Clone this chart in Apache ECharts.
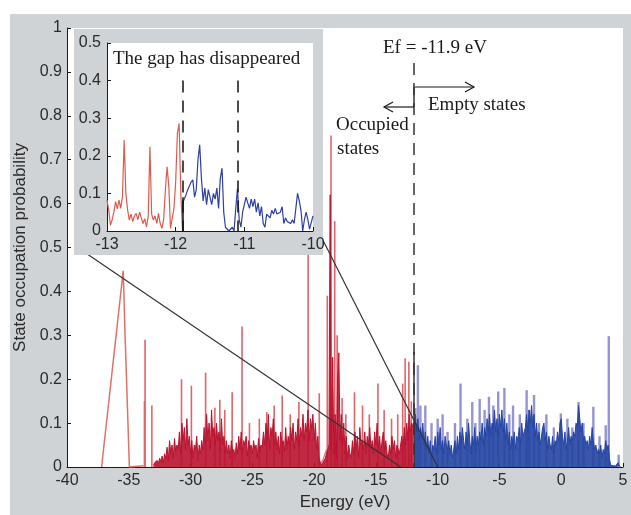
<!DOCTYPE html>
<html><head><meta charset="utf-8">
<script src="https://cdn.jsdelivr.net/npm/echarts@6/dist/echarts.min.js"></script>
<style>html,body{margin:0;padding:0;background:#fff}#c{width:631px;height:515px}</style>
</head><body><div id="c"></div>
<script>
// ---------- data ----------
const mainXRange = [-40, 5];
const mainYRange = [0, 1];
const insetXRange = [-13, -10];
const insetYRange = [0, 0.5];
const fermiLevel = -11.9;
const gapEdge = -11.1;

// dense occupied (red) states, one value every 0.1 eV from -33.0 eV
const RED_START = -33.0, MAIN_STEP = 0.1;
const redDark = [
 0.004,0.01,0.006,0.015,0.008,0.02,0.012,0.025,0.01,0.03,
 0.02,0.045,0.015,0.06,0.03,0.05,0.02,0.065,0.035,0.05,
 0.04,0.08,0.03,0.1,0.06,0.09,0.04,0.11,0.05,0.07,
 0.03,0.06,0.02,0.05,0.04,0.07,0.015,0.05,0.03,0.06,
 0.04,0.09,0.05,0.12,0.06,0.1,0.04,0.13,0.07,0.09,
 0.05,0.1,0.06,0.08,0.04,0.11,0.05,0.07,0.03,0.06,
 0.03,0.05,0.02,0.06,0.035,0.04,0.02,0.055,0.03,0.07,
 0.04,0.08,0.03,0.06,0.05,0.07,0.025,0.06,0.04,0.05,
 0.03,0.06,0.04,0.05,0.02,0.065,0.035,0.05,0.045,0.08,
 0.05,0.1,0.06,0.12,0.04,0.09,0.07,0.11,0.05,0.08,
 0.04,0.07,0.03,0.08,0.05,0.06,0.035,0.09,0.04,0.07,
 0.05,0.09,0.06,0.1,0.04,0.08,0.06,0.11,0.05,0.09,
 0.07,0.12,0.06,0.1,0.08,0.13,0.06,0.11,0.09,0.12,
 0.06,0.1,0.04,0.07,0.02,0.01,0.005,0.01,0.015,0.02,
 0.03,0.04,0.05,0.62,0.04,0.25,0.03,0.12,0.02,0.2,
 0.26,0.06,0.12,0.05,0.1,0.03,0.07,0.02,0.05,0.03,
 0.02,0.06,0.03,0.08,0.04,0.07,0.02,0.09,0.05,0.06,
 0.04,0.08,0.03,0.07,0.05,0.09,0.04,0.06,0.03,0.08,
 0.05,0.1,0.04,0.07,0.03,0.06,0.08,0.04,0.06,0.03,
 0.02,0.05,0.03,0.07,0.04,0.06,0.02,0.05,0.04,0.03,
 0.03,0.07,0.04,0.09,0.05,0.1,0.06,0.12,0.08,0.1,
 0.09
];
// isolated tall occupied peaks [energy, probability]
const redSpikes = [
 [-33.65,0.29],[-33.7,0.15],[-33.1,0.14],[-30.7,0.2],[-29.9,0.185],[-28.75,0.215],[-28.0,0.135],
 [-27.6,0.153],[-27.2,0.13],[-26.6,0.17],[-25.8,0.32],[-25.2,0.1],[-24.4,0.11],
 [-23.8,0.125],[-23.2,0.14],[-22.55,0.163],[-21.9,0.12],[-21.2,0.148],[-20.45,0.55],
 [-19.55,0.168],[-18.9,0.39],[-18.6,0.755],[-18.3,0.56],[-18.1,0.3],[-17.7,0.157],
 [-17.4,0.12],[-16.7,0.17],[-16.05,0.14],[-15.5,0.12],[-14.8,0.19],[-14.3,0.13],[-13.7,0.11],
 [-13.2,0.12],[-12.8,0.19],[-12.6,0.248],[-12.3,0.24],[-12.1,0.15]
];
// deep band around -35 eV
const redPeak = [[-37.2,0],[-35.45,0.447],[-35.3,0.3],[-34.95,0.0],[-33.8,0.003]];
// small ramp below the big peaks
const redRamp = [[-19.6,0.005],[-19.3,0.015],[-19.0,0.04]];

// dense empty (blue) states, one value every 0.1 eV from -11.9 eV
const BLUE_START = -11.9;
const blueDark = [
 0.1,0.12,0.08,0.11,0.06,0.09,0.07,0.1,0.05,0.08,
 0.04,0.07,0.03,0.06,0.02,0.05,0.04,0.07,0.03,0.08,
 0.05,0.09,0.04,0.06,0.03,0.07,0.05,0.04,0.06,0.03,
 0.05,0.02,0.04,0.06,0.03,0.07,0.04,0.08,0.05,0.09,
 0.06,0.04,0.08,0.05,0.1,0.06,0.03,0.07,0.05,0.09,
 0.04,0.07,0.05,0.08,0.06,0.1,0.05,0.09,0.07,0.11,
 0.08,0.12,0.07,0.1,0.09,0.13,0.08,0.11,0.07,0.12,
 0.09,0.13,0.08,0.11,0.06,0.1,0.05,0.08,0.04,0.07,
 0.05,0.08,0.04,0.07,0.06,0.09,0.05,0.1,0.07,0.08,
 0.09,0.12,0.08,0.13,0.1,0.14,0.09,0.12,0.07,0.1,
 0.06,0.08,0.05,0.07,0.09,0.1,0.06,0.08,0.04,0.07,
 0.05,0.04,0.07,0.03,0.06,0.05,0.08,0.06,0.1,0.11,
 0.07,0.05,0.08,0.04,0.06,0.09,0.05,0.07,0.06,0.08,
 0.07,0.1,0.09,0.14,0.11,0.08,0.1,0.06,0.07,0.05,
 0.06,0.04,0.07,0.05,0.09,0.06,0.04,0.05,0.03,0.04,
 0.03,0.05,0.02,0.04,0.03,0.06,0.04,0.05,0.02,
 0.004,0.002,0.003,0.001,0.002,0.003,0.01,0.003,0
];
const blueSpikes = [
 [-11.8,0.134],[-11.6,0.232],[-11.4,0.14],[-11.0,0.14],[-10.5,0.1],[-10.0,0.11],
 [-9.6,0.12],[-9.2,0.08],[-8.6,0.1],[-8.15,0.19],[-7.6,0.11],[-7.2,0.148],[-6.95,0.1],
 [-6.6,0.155],[-6.2,0.13],[-5.85,0.16],[-5.5,0.14],[-5.1,0.172],[-4.6,0.18],[-4.2,0.12],
 [-3.9,0.14],[-3.35,0.12],[-2.8,0.175],[-2.6,0.13],[-2.2,0.164],[-1.8,0.1],[-1.2,0.12],
 [-0.6,0.09],[-0.03,0.122],[0.5,0.11],[0.9,0.09],[1.4,0.148],[1.8,0.1],[2.6,0.137],
 [3.1,0.07],[3.6,0.095],[3.85,0.298],[4.65,0.028]
];

// inset (zoom around the gap), one value every 0.025 eV
const INSET_STEP = 0.025;
const INSET_RED_START = -13.0;
const insetRed = [
 0.082,0.056,0.015,0.03,0.05,0.078,0.059,0.082,0.06,0.091,
 0.242,0.1,0.056,0.029,0.045,0.025,0.04,0.047,0.03,0.05,
 0.035,0.02,0.033,0.011,0.038,0.224,0.045,0.029,0.04,0.02,
 0.047,0.02,0.007,0.03,0.109,0.171,0.12,0.007,0.005,0.06,
 0.13,0.26,0.286,0.1,0.0
];
const INSET_BLUE_START = -11.9;
const insetBlue = [
 0.073,0.085,0.096,0.11,0.12,0.13,0.136,0.09,0.11,0.19,
 0.229,0.14,0.08,0.114,0.07,0.11,0.09,0.07,0.1,0.085,
 0.114,0.06,0.14,0.167,0.05,0.01,0.015,0.0,0.0,0.01,
 0.0,0.06,0.113,0.03,0.01,0.05,0.07,0.09,0.075,0.06,
 0.085,0.065,0.085,0.05,0.075,0.04,0.065,0.02,0.01,0.045,
 0.05,0.035,0.055,0.045,0.06,0.045,0.04,0.05,0.065,0.02,
 0.035,0.025,0.02,0.02,0.03,0.02,0.06,0.1,0.08,0.055,
 0.0,0.03,0.05,0.03,0.005,0.01,0.04
];

// connector lines from the inset to the zoomed range (far ends hidden under inset)
const connectorLeft = [[-13,0],[-39.2,0.501]];
const connectorRight = [[-10,0],[-19.6,0.534]];

// ---------- chart ----------
const toPairs = (start, step, vals) => vals.map((v,i)=>[Math.round((start+i*step)*1000)/1000, v]);
const FONT = 'Liberation Sans, Arial, sans-serif';
const SERIF = 'Liberation Serif, Times New Roman, serif';
const GRAY = '#d0d3d6';
const INK = '#1a1a1a';

function axis(extra){
  return Object.assign({
    type:'value',
    axisLine:{show:true,onZero:false,lineStyle:{color:INK,width:1}},
    axisTick:{show:true,inside:true,length:4,lineStyle:{color:INK}},
    axisLabel:{color:'#2a2a2a',fontSize:16,fontFamily:FONT,margin:6},
    splitLine:{show:false}
  }, extra);
}

const chart = echarts.init(document.getElementById('c'), null, {renderer:'canvas', width:631, height:515});
const dash = [12,8];

chart.setOption({
  animation:false,
  backgroundColor:GRAY,
  grid:[
    {left:67, top:28, width:556, height:439, show:true, backgroundColor:'#fff', borderWidth:0, outerBoundsMode:'none'},
    {left:107, top:43, width:206, height:188, show:true, backgroundColor:'#fff', borderWidth:0, z:15, outerBoundsMode:'none'}
  ],
  xAxis:[
    axis({gridIndex:0, min:mainXRange[0], max:mainXRange[1], interval:5,
      name:'Energy (eV)', nameLocation:'middle', nameGap:27,
      nameTextStyle:{fontSize:17,color:'#2a2a2a',fontFamily:FONT}}),
    axis({gridIndex:1, min:insetXRange[0], max:insetXRange[1], interval:1, z:20})
  ],
  yAxis:[
    axis({gridIndex:0, min:mainYRange[0], max:mainYRange[1], interval:0.1,
      axisLabel:{color:'#2a2a2a',fontSize:16,fontFamily:FONT,margin:5},
      name:'State occupation probability', nameLocation:'middle', nameGap:36, nameRotate:90,
      nameTextStyle:{fontSize:17,color:'#2a2a2a',fontFamily:FONT}}),
    axis({gridIndex:1, min:insetYRange[0], max:insetYRange[1], interval:0.1, z:20,
      axisLabel:{color:'#2a2a2a',fontSize:16,fontFamily:FONT,margin:6}})
  ],
  graphic:[
    {type:'rect', shape:{x:0,y:0,width:631,height:14}, style:{fill:'#fff'}, silent:true},
    {type:'rect', shape:{x:0,y:0,width:10,height:515}, style:{fill:'#fff'}, silent:true},
    {type:'rect', shape:{x:74,y:29,width:249,height:226}, style:{fill:GRAY}, z:14, silent:true},
    {type:'text', x:113, y:59, z:30, style:{text:'The gap has disappeared', font:'19px '+SERIF, fill:INK, verticalAlign:'middle'}},
    {type:'text', x:383, y:48, z:30, style:{text:'Ef = -11.9 eV', font:'19px '+SERIF, fill:INK, verticalAlign:'middle'}},
    {type:'text', x:428, y:105, z:30, style:{text:'Empty states', font:'19px '+SERIF, fill:INK, verticalAlign:'middle'}},
    {type:'text', x:336, y:125, z:30, style:{text:'Occupied', font:'19px '+SERIF, fill:INK, verticalAlign:'middle'}},
    {type:'text', x:337, y:149, z:30, style:{text:'states', font:'19px '+SERIF, fill:INK, verticalAlign:'middle'}},
    {type:'polyline', z:30, shape:{points:[[415,87],[474,87]]}, style:{stroke:INK,lineWidth:1.2}},
    {type:'polyline', z:30, shape:{points:[[465,82],[474,87],[465,92]]}, style:{stroke:INK,lineWidth:1.2,fill:null}},
    {type:'polyline', z:30, shape:{points:[[414,107],[384,107]]}, style:{stroke:INK,lineWidth:1.2}},
    {type:'polyline', z:30, shape:{points:[[393,102],[384,107],[393,112]]}, style:{stroke:INK,lineWidth:1.2,fill:null}}
  ],
  series:[
    {type:'line', name:'redPeak', xAxisIndex:0, yAxisIndex:0, data:redPeak, symbol:'none',
      lineStyle:{color:'#e07068', width:1.5}, z:2},
    {type:'line', name:'redRamp', xAxisIndex:0, yAxisIndex:0, data:redRamp, symbol:'none',
      lineStyle:{color:'#e07068', width:1.2}, z:2},
    {type:'bar', name:'redSpikes', xAxisIndex:0, yAxisIndex:0, data:redSpikes, barWidth:1.6, barGap:'-100%',
      itemStyle:{color:'#e0646a'}, z:2},
    {type:'bar', name:'blueSpikes', xAxisIndex:0, yAxisIndex:0, data:blueSpikes, barWidth:2.4, barGap:'-100%',
      itemStyle:{color:'#9494d4'}, z:2},
    {type:'line', name:'redDark', xAxisIndex:0, yAxisIndex:0, data:toPairs(RED_START,MAIN_STEP,redDark), symbol:'none',
      lineStyle:{color:'#b8122f', width:1}, areaStyle:{color:'#b8122f', opacity:0.9}, z:3},
    {type:'line', name:'blueDark', xAxisIndex:0, yAxisIndex:0, data:toPairs(BLUE_START,MAIN_STEP,blueDark), symbol:'none',
      lineStyle:{color:'#2444a2', width:1}, areaStyle:{color:'#2444a2', opacity:0.9}, z:3,
      markLine:{silent:true, z:6, symbol:['none','none'], label:{show:false},
        lineStyle:{color:'#333', width:1.5, type:dash},
        data:[
          [{coord:[fermiLevel,0.92]},{coord:[fermiLevel,0]}],
          [{coord:[fermiLevel,0.866],lineStyle:{type:'solid'}},{coord:[fermiLevel,0.82]}],
          [{coord:[fermiLevel,0.262],lineStyle:{type:'solid'}},{coord:[fermiLevel,0]}]
        ]}},
    {type:'line', name:'connL', xAxisIndex:0, yAxisIndex:0, data:connectorLeft, symbol:'none',
      lineStyle:{color:'#333', width:1.2}, z:4},
    {type:'line', name:'connR', xAxisIndex:0, yAxisIndex:0, data:connectorRight, symbol:'none',
      lineStyle:{color:'#333', width:1.2}, z:4},
    {type:'line', name:'insetRed', xAxisIndex:1, yAxisIndex:1, data:toPairs(INSET_RED_START,INSET_STEP,insetRed), symbol:'none',
      lineStyle:{color:'#de5a4e', width:1.2}, z:20},
    {type:'line', name:'insetBlue', xAxisIndex:1, yAxisIndex:1, data:toPairs(INSET_BLUE_START,INSET_STEP,insetBlue), symbol:'none',
      lineStyle:{color:'#2b3fa6', width:1.2}, z:20,
      markLine:{silent:true, z:25, symbol:['none','none'], label:{show:false},
        lineStyle:{color:'#111', width:1.5, type:dash},
        data:[
          [{coord:[fermiLevel,0.4]},{coord:[fermiLevel,0]}],
          [{coord:[fermiLevel,0.09],lineStyle:{type:'solid'}},{coord:[fermiLevel,0]}],
          [{coord:[gapEdge,0.4]},{coord:[gapEdge,0]}]
        ]}}
  ]
});
</script></body></html>
